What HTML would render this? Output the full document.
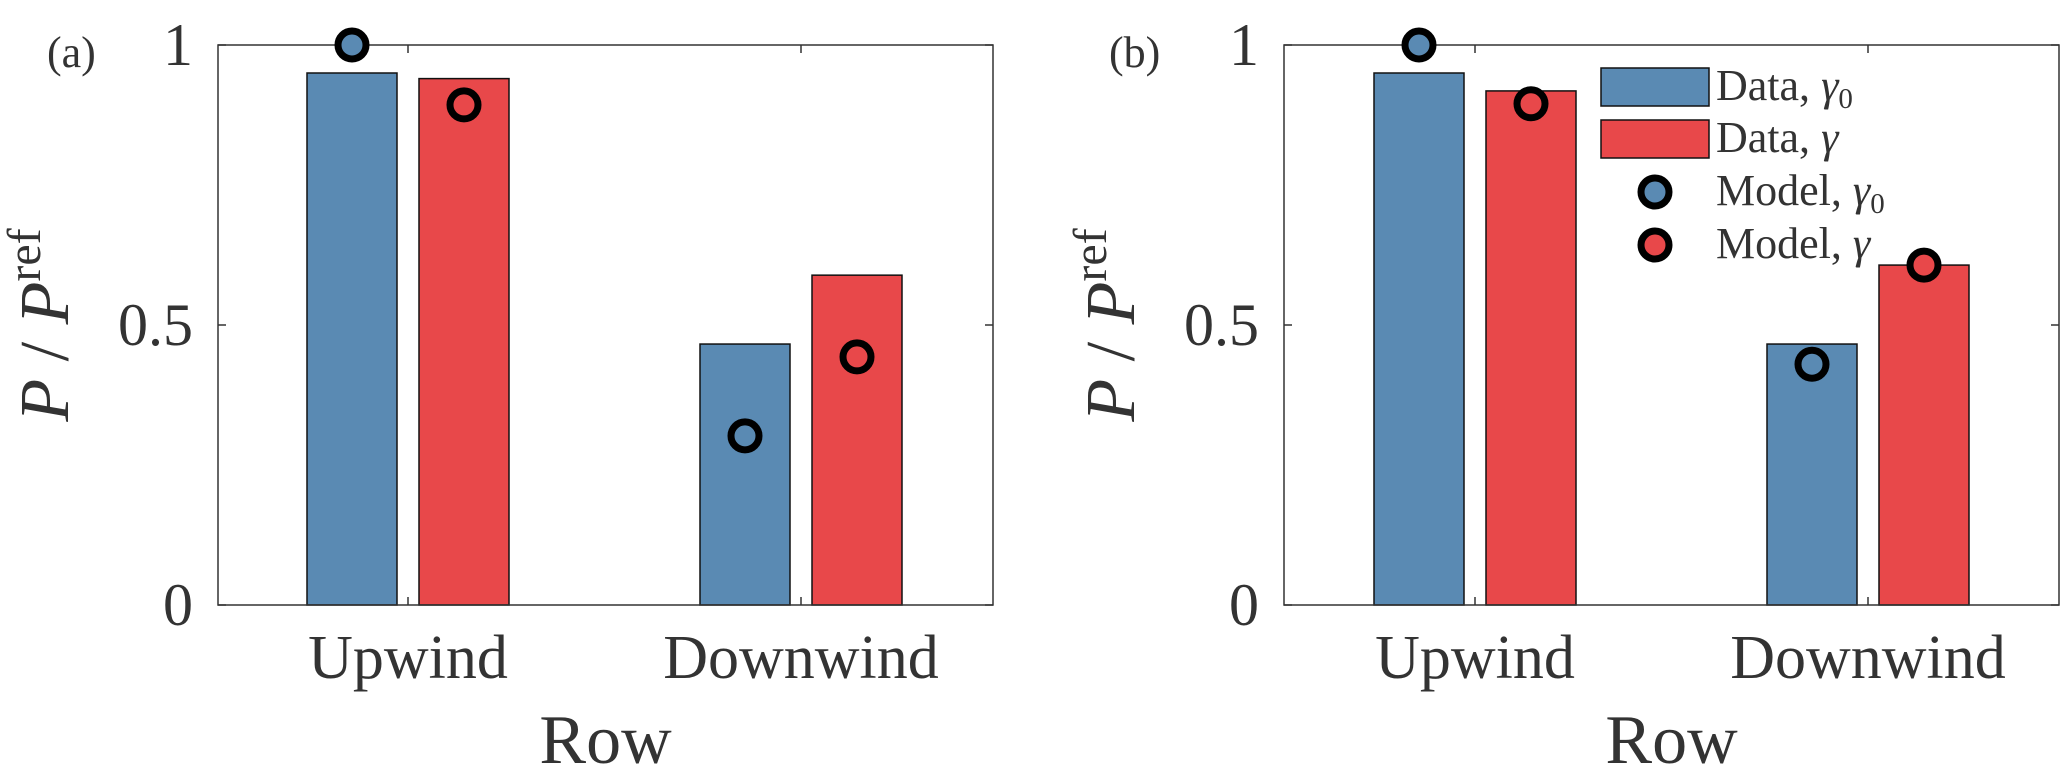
<!DOCTYPE html>
<html><head><meta charset="utf-8"><style>
html,body{margin:0;padding:0;background:#fff;}
svg{display:block;}
text{font-family:"Liberation Serif",serif;fill:#333;}
</style></head><body>
<svg id="chart" width="2067" height="778" viewBox="0 0 2067 778" xmlns="http://www.w3.org/2000/svg"></svg>
<script>
const categories = ["Upwind", "Downwind"];
const yTicks = [0, 0.5, 1];
const yTickLabels = ["0", "0.5", "1"];
const panelLabels = ["(a)", "(b)"];
const dataG0_a = [0.95, 0.466];
const dataG_a = [0.94, 0.589];
const modelG0_a = [1.0, 0.302];
const modelG_a = [0.893, 0.443];
const dataG0_b = [0.95, 0.466];
const dataG_b = [0.918, 0.607];
const modelG0_b = [1.0, 0.43];
const modelG_b = [0.895, 0.607];

const NS = "http://www.w3.org/2000/svg";
const svgEl = document.getElementById('chart');
const BLUE = "#5a8ab3", RED = "#e8484a";
function mk(tag, attrs, parent) {
  const e = document.createElementNS(NS, tag);
  for (const k in attrs) e.setAttribute(k, attrs[k]);
  (parent || svgEl).appendChild(e);
  return e;
}
const panels = [
  {left:218, right:993, tick1:408, lab:47, d0:dataG0_a, d1:dataG_a, m0:modelG0_a, m1:modelG_a, legend:false},
  {left:1284, right:2059, tick1:1475, lab:1109, d0:dataG0_b, d1:dataG_b, m0:modelG0_b, m1:modelG_b, legend:true}
];
const yTop = 45, yBottom = 605, spacing = 393, barW = 90, off = 56;
function yS(v){ return yBottom - v*(yBottom-yTop); }

panels.forEach((p, pi) => {
  const g = mk('g', {});
  
  
  const xS = c => p.tick1 + c*spacing;
  categories.forEach((c, i) => {
    const b0 = mk('rect', {x:xS(i)-off-barW/2, y:yS(p.d0[i]), width:barW, height:yS(0)-yS(p.d0[i]), fill:BLUE, stroke:"#111", 'stroke-width':1.5}, g);
    
    
    const b1 = mk('rect', {x:xS(i)+off-barW/2, y:yS(p.d1[i]), width:barW, height:yS(0)-yS(p.d1[i]), fill:RED, stroke:"#111", 'stroke-width':1.5}, g);
    
    
  });
  const box = mk('rect', {x:p.left, y:yTop, width:p.right-p.left, height:yBottom-yTop, fill:"none", stroke:"#333", 'stroke-width':1.5}, g);
  
  
  yTicks.forEach((t, i) => {
    mk('line', {x1:p.left, x2:p.left+8, y1:yS(t), y2:yS(t), stroke:"#333", 'stroke-width':1.5}, g);
    mk('line', {x1:p.right, x2:p.right-8, y1:yS(t), y2:yS(t), stroke:"#333", 'stroke-width':1.5}, g);
    const tl = mk('text', {x:p.left-25, y:yS(t)+20, 'text-anchor':'end', 'font-size':60}, g);
    tl.textContent = yTickLabels[i];
    
    
  });
  categories.forEach((c, i) => {
    mk('line', {x1:xS(i), x2:xS(i), y1:yBottom, y2:yBottom-8, stroke:"#333", 'stroke-width':1.5}, g);
    mk('line', {x1:xS(i), x2:xS(i), y1:yTop, y2:yTop+8, stroke:"#333", 'stroke-width':1.5}, g);
    const tl = mk('text', {x:xS(i), y:678, 'text-anchor':'middle', 'font-size':62}, g);
    tl.textContent = c;
    
    
  });
  categories.forEach((c, i) => {
    const m0 = mk('circle', {cx:xS(i)-off, cy:yS(p.m0[i]), r:14, fill:BLUE, stroke:"#000", 'stroke-width':7}, g);
    
    
    const m1 = mk('circle', {cx:xS(i)+off, cy:yS(p.m1[i]), r:14, fill:RED, stroke:"#000", 'stroke-width':7}, g);
    
    
  });
  const xt = mk('text', {x:(p.left+p.right)/2, y:763, 'text-anchor':'middle', 'font-size':70}, g);
  xt.textContent = "Row";
  
  
  const yt = mk('text', {x:0, y:0, 'text-anchor':'middle', 'font-size':70, transform:`translate(${p.left-150},325) rotate(-90)`}, g);
  yt.innerHTML = '<tspan font-style="italic">P</tspan> / <tspan font-style="italic">P</tspan><tspan font-size="48" dy="-28">ref</tspan>';
  
  
  const pl = mk('text', {x:p.lab, y:67, 'font-size':44}, g);
  pl.textContent = panelLabels[pi];
  
  

  if (p.legend) {
    const lg = mk('g', {}, g);
    
    
    const items = [
      {t:'Data, <tspan font-style="italic">γ</tspan><tspan font-size="29" dy="8">0</tspan>', kind:'bar', c:BLUE, y:87},
      {t:'Data, <tspan font-style="italic">γ</tspan>', kind:'bar', c:RED, y:139},
      {t:'Model, <tspan font-style="italic">γ</tspan><tspan font-size="29" dy="8">0</tspan>', kind:'dot', c:BLUE, y:192},
      {t:'Model, <tspan font-style="italic">γ</tspan>', kind:'dot', c:RED, y:245}
    ];
    items.forEach(it => {
      const e = mk('g', {}, lg);
      
      
      if (it.kind === 'bar') mk('rect', {x:1601, y:it.y-19, width:108, height:38, fill:it.c, stroke:"#111", 'stroke-width':1.5}, e);
      else mk('circle', {cx:1655, cy:it.y, r:14, fill:it.c, stroke:"#000", 'stroke-width':7}, e);
      const t = mk('text', {x:1716, y:it.y+13, 'font-size':44}, e);
      t.innerHTML = it.t;
    });
  }
});
</script>
</body></html>
